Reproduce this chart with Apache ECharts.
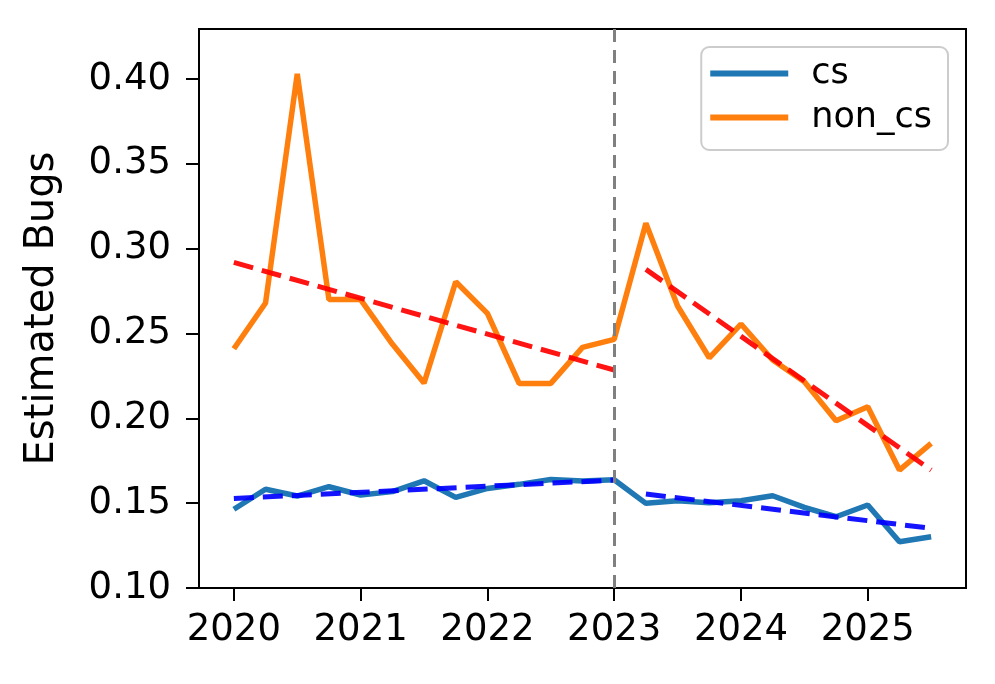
<!DOCTYPE html>
<html>
<head>
<meta charset="utf-8">
<script src="https://cdn.jsdelivr.net/npm/echarts@6/dist/echarts.min.js"></script>
<style>html,body{margin:0;padding:0;background:#fff;}#c{width:995px;height:684px;}</style>
</head>
<body>
<div id="c"></div>
<script>
var quarters = [2020.0,2020.25,2020.5,2020.75,2021.0,2021.25,2021.5,2021.75,2022.0,2022.25,2022.5,2022.75,2023.0,2023.25,2023.5,2023.75,2024.0,2024.25,2024.5,2024.75,2025.0,2025.25,2025.5];
var csValues = [0.1464,0.1582,0.1542,0.1597,0.1548,0.1568,0.1632,0.1534,0.1587,0.1611,0.1640,0.1630,0.1638,0.1499,0.1514,0.1503,0.1514,0.1544,0.1475,0.1420,0.1489,0.1273,0.1302];
var nonCsValues = [0.241,0.268,0.403,0.270,0.270,0.2438,0.2208,0.2805,0.2619,0.2206,0.2206,0.2418,0.2466,0.315,0.2662,0.2357,0.2556,0.2344,0.2216,0.1986,0.2068,0.1695,0.1853];
var trendPreX = [2020.0, 2023.0];
var trendPostX = [2023.25, 2025.5];
var csTrendPre = [0.1528, 0.1636];
var csTrendPost = [0.1554, 0.1352];
var nonCsTrendPre = [0.2919, 0.2285];
var nonCsTrendPost = [0.2878, 0.1695];
var xTicks = [2020, 2021, 2022, 2023, 2024, 2025];
var yTicks = [0.10, 0.15, 0.20, 0.25, 0.30, 0.35, 0.40];
var breakYear = 2023;

function pairs(xs, ys){ return xs.map(function(x,i){ return [x, ys[i]]; }); }
var FONT = 'DejaVu Sans';
var chart = echarts.init(document.getElementById('c'), null, {renderer:'canvas'});
var trendStyle = function(color){ return {color: color, width: 5, type: [20, 9], opacity: 0.92}; };
chart.setOption({
  animation: false,
  textStyle: {fontFamily: FONT},
  grid: {left: 199, right: 29, top: 29, bottom: 96, show: true, borderColor: '#000', borderWidth: 2, backgroundColor: 'transparent'},
  legend: {
    show: true, right: 47, top: 47, orient: 'vertical',
    data: ['cs', 'non_cs'],
    icon: 'rect', itemWidth: 78, itemHeight: 6, itemGap: 9,
    padding: [9, 16, 15, 9],
    borderColor: '#cccccc', borderWidth: 2, borderRadius: 8,
    backgroundColor: 'rgba(255,255,255,0.8)',
    textStyle: {fontFamily: FONT, fontSize: 35, color: '#000', padding: [0,0,0,18]}
  },
  xAxis: {
    type: 'value', min: 2019.725, max: 2025.775,
    axisLine: {show: true, lineStyle: {color: '#000', width: 2}},
    axisTick: {show: true, length: 13, lineStyle: {color: '#000', width: 2}, customValues: xTicks},
    axisLabel: {color: '#000', fontSize: 37, fontFamily: FONT, margin: 24, customValues: xTicks, formatter: function(v){ return String(Math.round(v)); }},
    splitLine: {show: false}
  },
  yAxis: {
    type: 'value', min: 0.10, max: 0.4295,
    name: 'Estimated Bugs', nameLocation: 'middle', nameGap: 136,
    nameTextStyle: {fontSize: 40, color: '#000', fontFamily: FONT},
    axisLine: {show: true, lineStyle: {color: '#000', width: 2}},
    axisTick: {show: true, length: 13, lineStyle: {color: '#000', width: 2}, customValues: yTicks},
    axisLabel: {color: '#000', fontSize: 37, fontFamily: FONT, margin: 28, customValues: yTicks, formatter: function(v){ return v.toFixed(2); }},
    splitLine: {show: false}
  },
  series: [
    {name: 'cs', type: 'line', data: pairs(quarters, csValues), symbol: 'none', lineStyle: {color: '#1f77b4', width: 5.5}, itemStyle: {color: '#1f77b4'}, z: 2,
     markLine: {silent: true, symbol: 'none', label: {show: false}, lineStyle: {color: '#808080', width: 3, type: [13, 8]}, data: [{xAxis: breakYear}]}},
    {name: 'non_cs', type: 'line', data: pairs(quarters, nonCsValues), symbol: 'none', lineStyle: {color: '#ff7f0e', width: 5.5}, itemStyle: {color: '#ff7f0e'}, z: 2},
    {name: 'csTrendPre', type: 'line', data: pairs(trendPreX, csTrendPre), symbol: 'none', lineStyle: trendStyle('#0000ff'), z: 3},
    {name: 'csTrendPost', type: 'line', data: pairs(trendPostX, csTrendPost), symbol: 'none', lineStyle: trendStyle('#0000ff'), z: 3},
    {name: 'nonCsTrendPre', type: 'line', data: pairs(trendPreX, nonCsTrendPre), symbol: 'none', lineStyle: trendStyle('#ff0000'), z: 3},
    {name: 'nonCsTrendPost', type: 'line', data: pairs(trendPostX, nonCsTrendPost), symbol: 'none', lineStyle: trendStyle('#ff0000'), z: 3}
  ]
});
</script>
</body>
</html>
